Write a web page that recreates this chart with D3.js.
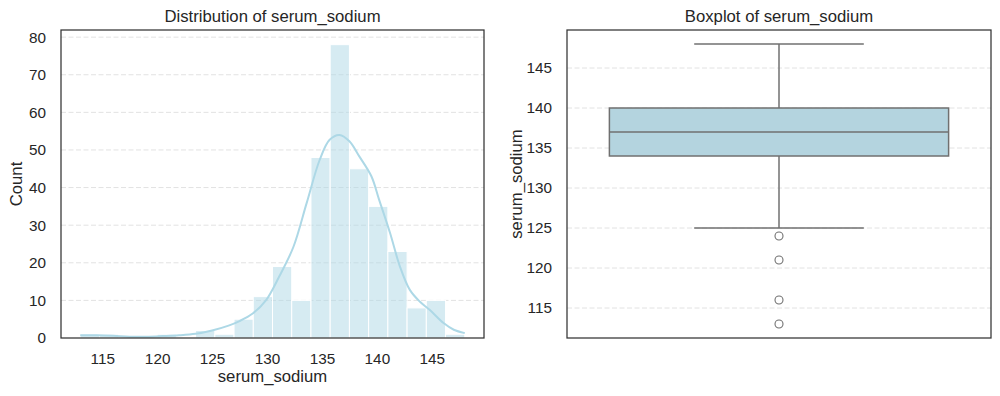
<!DOCTYPE html>
<html>
<head>
<meta charset="utf-8">
<script src="https://cdn.jsdelivr.net/npm/d3@7"></script>
<style>
    body { margin: 0; background: #fff; }
    text { font-family: "Liberation Sans", Arial, sans-serif; fill: #262626; }
</style>
</head>
<body>
<div id="chart"></div>
<script>
// histogram: 20 bins from 113 to 148
var binStart = 113;
var binWidth = 1.75;
var binCounts = [1, 1, 0, 0, 1, 0, 2, 1, 5, 11, 19, 10, 48, 78, 45, 35, 23, 8, 10, 1];

// kde line (scaled to counts)
var kdeX = [113, 114.5, 116, 117.5, 119, 120.5, 122, 123.5, 125, 126.5, 127.5, 128.7, 129.9, 131.1, 132.4,
            133.6, 134.8, 135.7, 136.6, 137.5, 138.4, 139.5, 140.2, 141.2, 142.1, 143, 143.9, 144.8, 146.1, 147, 148];
var kdeY = [0.7, 0.75, 0.6, 0.35, 0.35, 0.5, 0.7, 1.1, 2.0, 3.3, 4.5, 6.5, 10, 16.3, 24.2,
            35.8, 47.4, 52.7, 54, 52.3, 48.3, 43, 36.8, 27.9, 19, 12.8, 9.7, 7.5, 3.9, 2.2, 1.3];

var histXTicks = [115, 120, 125, 130, 135, 140, 145];
var histYTicks = [0, 10, 20, 30, 40, 50, 60, 70, 80];

// boxplot summary
var boxStats = {min: 125, q1: 134, median: 137, q3: 140, max: 148};
var outliers = [124, 121, 116, 113];
var boxYTicks = [115, 120, 125, 130, 135, 140, 145];

var svg = d3.select("#chart").append("svg")
    .attr("width", 1000)
    .attr("height", 396);

/**
 * Frame, grid and tick labels shared by both panels
 */
function drawFrame(g, w, h, y, yTicks, title, ylabel)
{
    // dashed horizontal grid
    g.append("g").selectAll("line")
        .data(yTicks)
        .enter().append("line")
        .attr("x1", 0).attr("x2", w)
        .attr("y1", function(d) { return y(d); })
        .attr("y2", function(d) { return y(d); })
        .style("stroke", "#e2e2e2")
        .style("stroke-width", 1)
        .style("stroke-dasharray", "5,2.5");

    var yAxis = d3.axisLeft(y).tickValues(yTicks).tickSize(0).tickPadding(15);
    var ya = g.append("g").attr("class", "y axis").call(yAxis);
    ya.select(".domain").remove();
    ya.selectAll("text")
        .style("font-size", "15.3px")
        .style("font-family", "Liberation Sans, Arial, sans-serif")
        .attr("fill", "#262626");

    g.append("text")
        .attr("x", w / 2)
        .attr("y", -8)
        .attr("text-anchor", "middle")
        .style("font-size", "16.7px")
        .text(title);

    g.append("text")
        .attr("transform", "translate(" + ylabel.x + "," + (h / 2) + ") rotate(-90)")
        .attr("text-anchor", "middle")
        .style("font-size", "16.7px")
        .text(ylabel.text);
}

function drawBorder(g, w, h)
{
    g.append("rect")
        .attr("x", 0).attr("y", 0)
        .attr("width", w).attr("height", h)
        .style("fill", "none")
        .style("stroke", "#333")
        .style("stroke-width", 1.25);
}

/**
 * Left panel: histogram with kde
 */
function HistChart(svg)
{
    var self = this;
    self.margin = {left: 61, top: 30};
    self.width = 423;
    self.height = 308;
    self.g = svg.append("g")
        .attr("transform", "translate(" + self.margin.left + "," + self.margin.top + ")");
}

HistChart.prototype.update = function()
{
    var self = this;
    var binEnd = binStart + binWidth * binCounts.length;
    var pad = (binEnd - binStart) * 0.05;

    var x = d3.scaleLinear().domain([binStart - pad, binEnd + pad]).range([0, self.width]);
    var y = d3.scaleLinear().domain([0, d3.max(binCounts) * 1.05]).range([self.height, 0]);

    drawFrame(self.g, self.width, self.height, y, histYTicks.slice(1),
        "Distribution of serum_sodium", {x: -39, text: "Count"});

    // the 0 label (no grid line needed there)
    var ya = self.g.append("g").call(d3.axisLeft(y).tickValues([0]).tickSize(0).tickPadding(15));
    ya.select(".domain").remove();
    ya.selectAll("text").style("font-size", "15.3px")
        .style("font-family", "Liberation Sans, Arial, sans-serif").attr("fill", "#262626");

    // bars
    self.g.append("g").selectAll("rect")
        .data(binCounts)
        .enter().append("rect")
        .attr("x", function(d, i) { return x(binStart + i * binWidth); })
        .attr("width", function(d, i) { return x(binStart + (i + 1) * binWidth) - x(binStart + i * binWidth); })
        .attr("y", function(d) { return y(d); })
        .attr("height", function(d) { return self.height - y(d); })
        .style("fill", "rgba(173,216,230,0.5)")
        .style("stroke", "#fff")
        .style("stroke-width", 1);

    // kde line
    var line = d3.line()
        .x(function(d, i) { return x(kdeX[i]); })
        .y(function(d) { return y(d); })
        .curve(d3.curveCatmullRom);

    self.g.append("path")
        .attr("d", line(kdeY))
        .style("fill", "none")
        .style("stroke", "#add8e6")
        .style("stroke-width", 2);

    // x axis labels
    var xAxis = d3.axisBottom(x).tickValues(histXTicks).tickSize(0).tickPadding(15);
    var xa = self.g.append("g")
        .attr("transform", "translate(0," + self.height + ")")
        .call(xAxis);
    xa.select(".domain").remove();
    xa.selectAll("text").style("font-size", "15.3px")
        .style("font-family", "Liberation Sans, Arial, sans-serif").attr("fill", "#262626");

    self.g.append("text")
        .attr("x", self.width / 2)
        .attr("y", self.height + 44)
        .attr("text-anchor", "middle")
        .style("font-size", "16.7px")
        .text("serum_sodium");

    drawBorder(self.g, self.width, self.height);
};

/**
 * Right panel: boxplot
 */
function BoxChart(svg)
{
    var self = this;
    self.margin = {left: 567, top: 30};
    self.width = 424;
    self.height = 308;
    self.g = svg.append("g")
        .attr("transform", "translate(" + self.margin.left + "," + self.margin.top + ")");
}

BoxChart.prototype.update = function()
{
    var self = this;
    var lo = d3.min(outliers.concat([boxStats.min]));
    var hi = boxStats.max;
    var pad = (hi - lo) * 0.05;

    var y = d3.scaleLinear().domain([lo - pad, hi + pad]).range([self.height, 0]);
    var x = d3.scaleLinear().domain([-0.5, 0.5]).range([0, self.width]);

    drawFrame(self.g, self.width, self.height, y, boxYTicks,
        "Boxplot of serum_sodium", {x: -45, text: "serum_sodium"});

    var lineColor = "#707070";
    var cx = x(0);

    // whiskers
    [[boxStats.q3, boxStats.max], [boxStats.q1, boxStats.min]].forEach(function(p) {
        self.g.append("line")
            .attr("x1", cx).attr("x2", cx)
            .attr("y1", y(p[0])).attr("y2", y(p[1]))
            .style("stroke", lineColor).style("stroke-width", 1.5);
        self.g.append("line")
            .attr("x1", x(-0.2)).attr("x2", x(0.2))
            .attr("y1", y(p[1])).attr("y2", y(p[1]))
            .style("stroke", lineColor).style("stroke-width", 1.5);
    });

    // box
    self.g.append("rect")
        .attr("x", x(-0.4))
        .attr("width", x(0.4) - x(-0.4))
        .attr("y", y(boxStats.q3))
        .attr("height", y(boxStats.q1) - y(boxStats.q3))
        .style("fill", "#b4d4df")
        .style("stroke", lineColor)
        .style("stroke-width", 1.5);

    self.g.append("line")
        .attr("x1", x(-0.4)).attr("x2", x(0.4))
        .attr("y1", y(boxStats.median)).attr("y2", y(boxStats.median))
        .style("stroke", lineColor).style("stroke-width", 1.5);

    // outliers
    self.g.append("g").selectAll("circle")
        .data(outliers)
        .enter().append("circle")
        .attr("cx", cx)
        .attr("cy", function(d) { return y(d); })
        .attr("r", 4)
        .style("fill", "none")
        .style("stroke", lineColor)
        .style("stroke-width", 1.1);

    drawBorder(self.g, self.width, self.height);
};

var hist = new HistChart(svg);
hist.update();
var box = new BoxChart(svg);
box.update();
</script>
</body>
</html>
